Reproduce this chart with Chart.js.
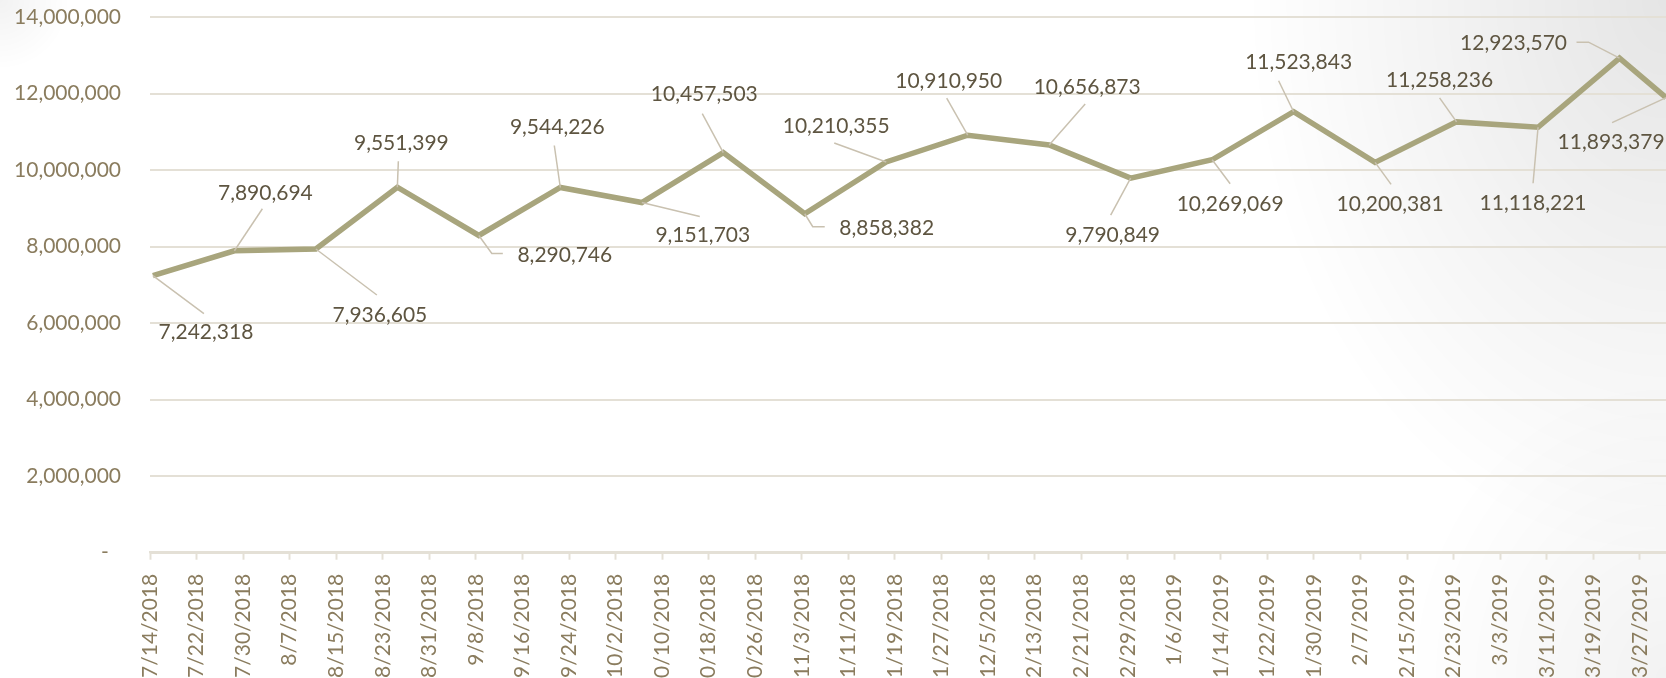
<!DOCTYPE html>
<html>
<head>
<meta charset="utf-8">
<script src="https://cdn.jsdelivr.net/npm/chart.js@4.4.1/dist/chart.umd.min.js"></script>
<style>
  html, body { margin: 0; padding: 0; width: 1666px; height: 678px; overflow: hidden; }
  body {
    background:
      radial-gradient(ellipse 420px 560px at 100% 0%, rgba(0,0,0,0.10), rgba(0,0,0,0) 100%),
      radial-gradient(ellipse 260px 300px at 100% 100%, rgba(0,0,0,0.05), rgba(0,0,0,0) 100%),
      radial-gradient(circle 70px at 0 0, rgba(0,0,0,0.05), rgba(0,0,0,0) 100%),
      #ffffff;
  }
  #wrap { position: absolute; left: 0; top: 0; width: 1669px; height: 678px; }
</style>
</head>
<body>
<div id="wrap"><canvas id="c" width="1669" height="678"></canvas></div>
<script>
// ---- data ----
const pointDates = ['7/14/2018','7/28/2018','8/11/2018','8/25/2018','9/8/2018','9/22/2018','10/6/2018','10/20/2018','11/3/2018','11/17/2018','12/1/2018','12/15/2018','12/29/2018','1/12/2019','1/26/2019','2/9/2019','2/23/2019','3/9/2019','3/23/2019','3/31/2019'];
const seriesValues = [7242318,7890694,7936605,9551399,8290746,9544226,9151703,10457503,8858382,10210355,10910950,10656873,9790849,10269069,11523843,10200381,11258236,11118221,12923570,11893379];
const xTickLabels = ['7/14/2018','7/22/2018','7/30/2018','8/7/2018','8/15/2018','8/23/2018','8/31/2018','9/8/2018','9/16/2018','9/24/2018','10/2/2018','10/10/2018','10/18/2018','10/26/2018','11/3/2018','11/11/2018','11/19/2018','11/27/2018','12/5/2018','12/13/2018','12/21/2018','12/29/2018','1/6/2019','1/14/2019','1/22/2019','1/30/2019','2/7/2019','2/15/2019','2/23/2019','3/3/2019','3/11/2019','3/19/2019','3/27/2019'];
const yTickValues = [0,2000000,4000000,6000000,8000000,10000000,12000000,14000000];
const axisEndDate = '4/1/2019';

// ---- label placement (relative to each point, px) ----
// [labelDx, labelDy, leaderEndDx, leaderEndDy, elbowDx or null]
const labelLayout = [
  [53, 57, 51, 38, null],
  [31, -58, 28, -42, null],
  [64, 66, 61, 46, null],
  [4, -44, 1, -26, null],
  [86, 20, 13, 18, 24],
  [-3, -60, -6, -42, null],
  [61, 33, 58, 14, null],
  [-19, -58, -21, -39, null],
  [82, 14, 8, 13, 20],
  [-50, -36, -52, -19, null],
  [-19, -54, -21, -37, null],
  [38, -58, 36, -41, null],
  [-18, 57, -20, 37, null],
  [18, 44, 18, 24, null],
  [5, -50, -15, -31, null],
  [15, 42, 16, 22, null],
  [-17, -42, -17, -24, null],
  [-5, 76, -5, 56, null],
  [-106, -15, -31, -16, -43],
  [-55, 45, -54, 25, null]
];

const DAY = 86400000;
function parseMDY(s) { const [m, d, y] = s.split('/').map(Number); return Date.UTC(y, m - 1, d); }
const origin = parseMDY(xTickLabels[0]);
const dayOf = s => Math.round((parseMDY(s) - origin) / DAY);
const tickDays = xTickLabels.map(dayOf);
const axisMax = dayOf(axisEndDate);
const points = pointDates.map((d, i) => ({ x: dayOf(d) + 0.5, y: seriesValues[i] }));

const FONT = 'Lato';
const AXIS_COLOR = '#8a7c5e';
const LABEL_COLOR = '#5e5541';
const LINE_COLOR = '#a8a57d';
const LEADER_COLOR = '#c9c1b0';
const GRID_COLOR = '#e4e0d6';

const fmt = v => Number(v).toLocaleString('en-US');

const dataLabelPlugin = {
  id: 'dataLabels',
  afterDatasetsDraw(chart) {
    const ctx = chart.ctx;
    const meta = chart.getDatasetMeta(0);
    ctx.save();
    meta.data.forEach((el, i) => {
      const L = labelLayout[i];
      if (!L) return;
      const px = el.x, py = el.y;
      ctx.strokeStyle = LEADER_COLOR;
      ctx.lineWidth = 1.5;
      ctx.beginPath();
      ctx.moveTo(px, py);
      ctx.lineTo(px + L[2], py + L[3]);
      if (L[4] !== null) ctx.lineTo(px + L[4], py + L[3]);
      ctx.stroke();
      ctx.fillStyle = LABEL_COLOR;
      ctx.font = '21px ' + FONT;
      ctx.textAlign = 'center';
      ctx.textBaseline = 'middle';
      ctx.fillText(fmt(seriesValues[i]), px + L[0], py + L[1]);
    });
    ctx.restore();
  }
};

const chart = new Chart(document.getElementById('c'), {
  type: 'line',
  data: {
    datasets: [{
      data: points,
      borderColor: LINE_COLOR,
      borderWidth: 5.5,
      borderJoinStyle: 'miter',
      pointRadius: 0,
      pointHoverRadius: 0,
      tension: 0,
      fill: false
    }]
  },
  options: {
    responsive: false,
    animation: false,
    devicePixelRatio: 1,
    layout: { padding: { left: 0, right: 0, top: 17, bottom: 0 } },
    plugins: { legend: { display: false }, tooltip: { enabled: false } },
    scales: {
      x: {
        type: 'linear',
        min: 0,
        max: axisMax,
        afterBuildTicks(scale) { scale.ticks = tickDays.map(v => ({ value: v })); },
        afterFit(scale) { scale.height = 125.3; scale.paddingLeft = 0; scale.paddingRight = 0; },
        ticks: {
          autoSkip: false,
          minRotation: 90,
          maxRotation: 90,
          padding: 14,
          color: AXIS_COLOR,
          font: { family: FONT, size: 21 },
          callback(v) { const i = tickDays.indexOf(v); return i >= 0 ? xTickLabels[i] : ''; }
        },
        grid: {
          drawOnChartArea: false,
          drawTicks: true,
          tickLength: 7,
          tickColor: GRID_COLOR,
          tickWidth: 2
        },
        border: { display: true, color: GRID_COLOR, width: 2.5 }
      },
      y: {
        min: 0,
        max: 14000000,
        afterBuildTicks(scale) { scale.ticks = yTickValues.map(v => ({ value: v })); },
        afterFit(scale) { scale.width = 150; scale.paddingTop = 0; scale.paddingBottom = 0; },
        ticks: {
          padding: 29,
          color: AXIS_COLOR,
          font: { family: FONT, size: 21 },
          callback(v) { return v === 0 ? '-\u2007' : fmt(v); }
        },
        grid: { color: GRID_COLOR, lineWidth: 2, drawTicks: false },
        border: { display: false }
      }
    }
  },
  plugins: [dataLabelPlugin]
});
</script>
</body>
</html>
